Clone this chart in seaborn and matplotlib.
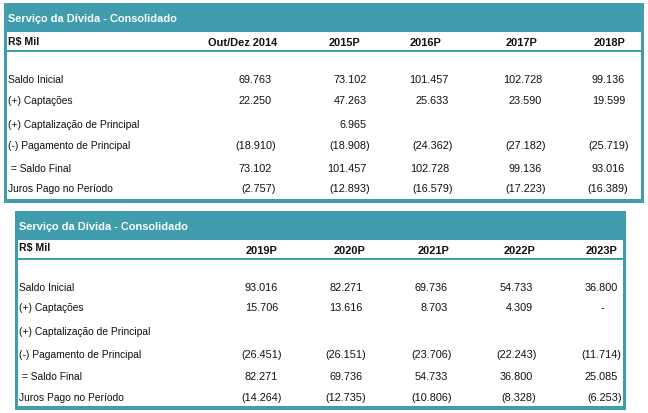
import matplotlib
matplotlib.use("Agg")
import matplotlib.pyplot as plt
from matplotlib.patches import Rectangle
import seaborn as sns

sns.set_style("white")
plt.rcParams['font.family'] = ['Liberation Sans', 'DejaVu Sans']

# ---------------- data ----------------
title = "Serviço da Dívida - Consolidado"
unit_label = "R$ Mil"
row_labels = ["Saldo Inicial", "(+) Captações", "(+) Captalização de Principal",
              "(-) Pagamento de Principal", " = Saldo Final", "Juros Pago no Período"]

years_1 = ["Out/Dez 2014", "2015P", "2016P", "2017P", "2018P"]
saldo_inicial_1 = [69763, 73102, 101457, 102728, 99136]
captacoes_1 = [22250, 47263, 25633, 23590, 19599]
capitalizacao_1 = [None, 6965, None, None, None]
pagamento_1 = [-18910, -18908, -24362, -27182, -25719]
saldo_final_1 = [73102, 101457, 102728, 99136, 93016]
juros_1 = [-2757, -12893, -16579, -17223, -16389]

years_2 = ["2019P", "2020P", "2021P", "2022P", "2023P"]
saldo_inicial_2 = [93016, 82271, 69736, 54733, 36800]
captacoes_2 = [15706, 13616, 8703, 4309, 0]
capitalizacao_2 = [None, None, None, None, None]
pagamento_2 = [-26451, -26151, -23706, -22243, -11714]
saldo_final_2 = [82271, 69736, 54733, 36800, 25085]
juros_2 = [-14264, -12735, -10806, -8328, -6253]

TEAL = "#409DAE"
TXT = "#111111"


def fmt(v):
    if v is None:
        return ""
    if v == 0:
        return "-"
    s = format(abs(v), ",").replace(",", ".")
    return "(%s)" % s if v < 0 else s


fig = plt.figure(figsize=(6.48, 4.14), dpi=100)
ax = fig.add_axes([0, 0, 1, 1])
ax.set_xlim(0, 648)
ax.set_ylim(414, 0)
ax.axis("off")


def draw_table(x0, x1, y0, band_h, hdr_y, yr_dy, line_y, row_ys, bottom_y,
               years, hdr_right, num_right, rows, label_x):
    # header band
    ax.add_patch(Rectangle((x0, y0), x1 - x0, band_h, color=TEAL, lw=0))
    ax.text(label_x, y0 + band_h / 2 + 0.5, title, color="white", fontsize=7.9,
            fontweight="bold", ha="left", va="center")
    # borders
    ax.add_patch(Rectangle((x0, y0), 2.5, bottom_y - y0 + 3.5, color=TEAL, lw=0))
    ax.add_patch(Rectangle((x1 - 3, y0), 3, bottom_y - y0 + 3.5, color=TEAL, lw=0))
    ax.add_patch(Rectangle((x0, bottom_y), x1 - x0, 3.5, color=TEAL, lw=0))
    ax.add_patch(Rectangle((x0, line_y), x1 - x0, 2.2, color=TEAL, lw=0))
    # header row
    ax.text(label_x, hdr_y, unit_label, color=TXT, fontsize=7.6,
            fontweight="bold", ha="left", va="center")
    for yr, xr in zip(years, hdr_right):
        ax.text(xr, hdr_y + yr_dy, yr, color=TXT, fontsize=7.9, fontweight="bold",
                ha="right", va="center")
    # body rows
    for lab, vals, y in zip(row_labels, rows, row_ys):
        ax.text(label_x, y, lab, color=TXT, fontsize=7.4, ha="left", va="center")
        for v, xr in zip(vals, num_right):
            s = fmt(v)
            if not s:
                continue
            xx = xr
            if s.startswith("("):
                xx = xr + 3.5
            elif s == "-":
                xx = xr - 14
            ax.text(xx, y, s, color=TXT, fontsize=7.8, ha="right", va="center")


rows_1 = [saldo_inicial_1, captacoes_1, capitalizacao_1, pagamento_1, saldo_final_1, juros_1]
rows_2 = [saldo_inicial_2, captacoes_2, capitalizacao_2, pagamento_2, saldo_final_2, juros_2]

draw_table(x0=4, x1=644, y0=4, band_h=29, hdr_y=42, yr_dy=0.5, line_y=51,
           row_ys=[80, 101, 125, 146, 169, 189], bottom_y=200,
           years=years_1, hdr_right=[277, 360, 442, 538, 625],
           num_right=[272, 367, 449, 542, 625], rows=rows_1, label_x=8)

draw_table(x0=15, x1=626, y0=212, band_h=29, hdr_y=248, yr_dy=3, line_y=259,
           row_ys=[288, 308, 332, 355, 377, 398], bottom_y=407.5,
           years=years_2, hdr_right=[277, 365, 450, 535, 617],
           num_right=[278, 363, 448, 533, 618], rows=rows_2, label_x=19)

fig.savefig("out.png", dpi=100)
